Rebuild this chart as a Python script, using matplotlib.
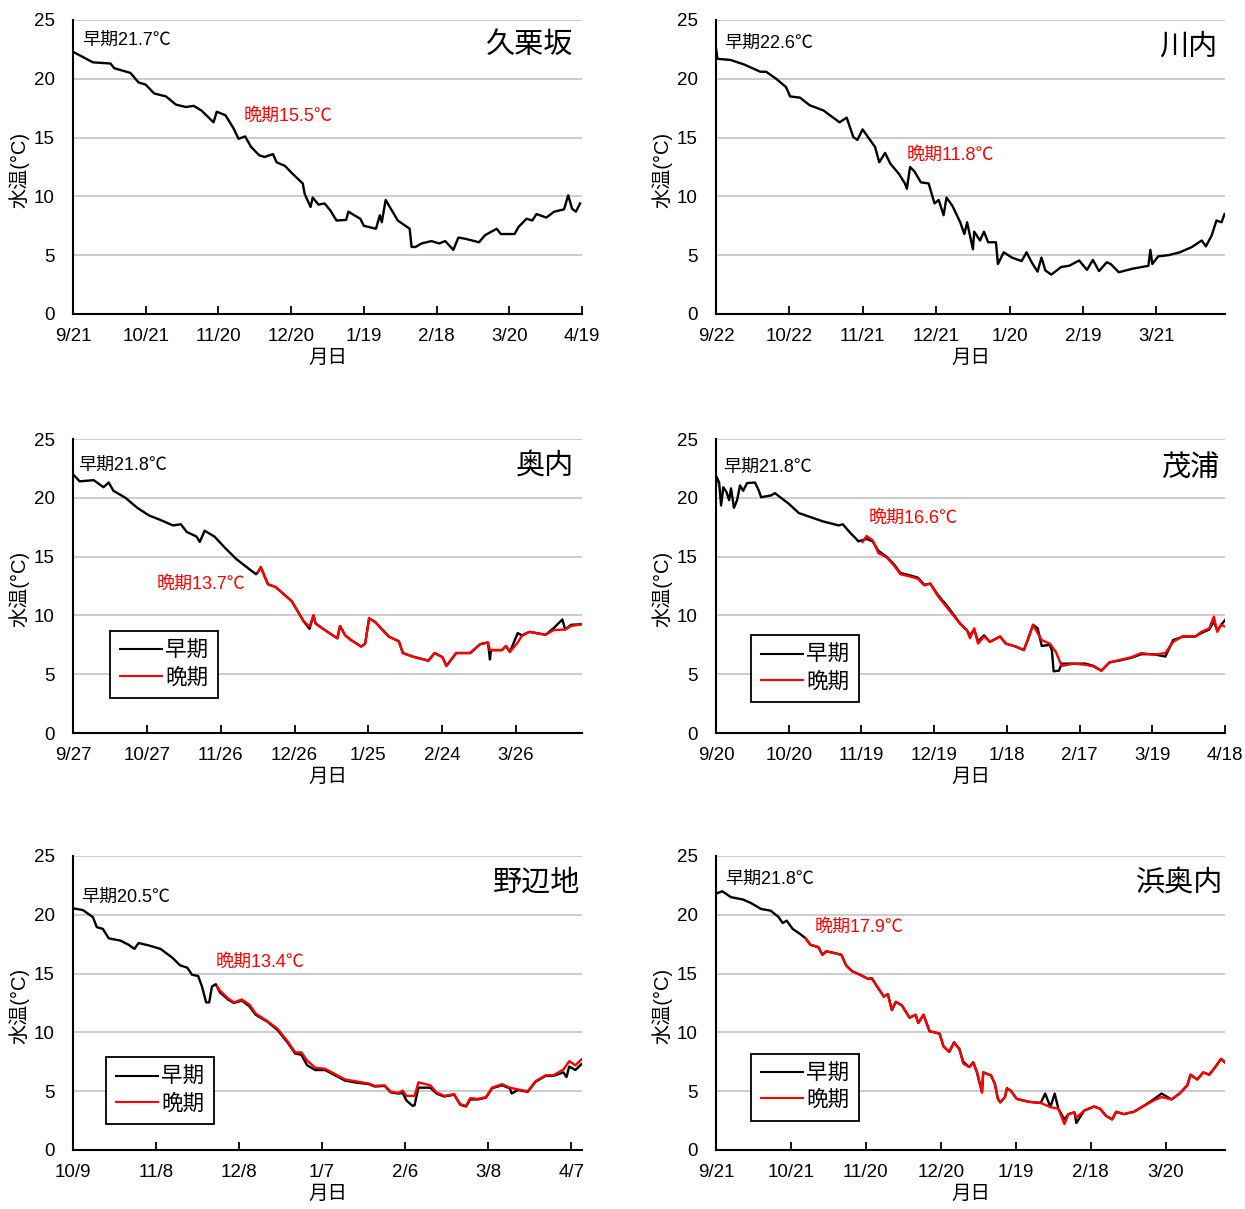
import matplotlib
matplotlib.use('Agg')
import matplotlib.pyplot as plt

# Latin digits in an Arial-like face, Japanese falls through to Noto CJK
plt.rcParams['font.family'] = ['Liberation Sans', 'Noto Sans CJK JP', 'DejaVu Sans']

# ---- 久栗坂 (days from 9/21) ----
KURI_EARLY_D = [0, 8.2, 15.5, 17, 23.7, 27, 30, 33.5, 38.4, 42.5, 46.6, 49.8, 53, 58, 59.3, 62.9,
                66.2, 68.3, 71, 73.5, 76.8, 79, 82.5, 84, 87.4, 90.7, 94.8, 95.6, 98, 98.9, 101.3,
                103.8, 106.2, 108.7, 112.7, 113.6, 118.5, 120, 125, 126.6, 127.4, 129, 130.7, 134,
                138.9, 139.7, 141.3, 143.8, 147.9, 151.1, 153.6, 156.9, 159, 161.8, 167.5, 170,
                174.8, 176.5, 182.2, 183.8, 187.1, 189.5, 191.2, 195.3, 198.5, 202.6, 204.3, 205.9,
                207.5, 209.2]
KURI_EARLY_T = [22.3, 21.4, 21.3, 20.9, 20.5, 19.7, 19.5, 18.75, 18.5, 17.8, 17.6, 17.7, 17.3, 16.3,
                17.2, 16.9, 15.8, 14.9, 15.1, 14.2, 13.5, 13.35, 13.6, 12.9, 12.6, 11.9, 11.1, 10.2,
                9.1, 9.9, 9.3, 9.4, 8.8, 7.95, 8.0, 8.7, 8.1, 7.5, 7.25, 8.4, 7.8, 9.7, 9.1, 7.95,
                7.25, 5.7, 5.7, 6.0, 6.2, 6.0, 6.2, 5.45, 6.5, 6.4, 6.1, 6.7, 7.25, 6.8, 6.8, 7.4,
                8.1, 7.95, 8.5, 8.2, 8.7, 8.9, 10.1, 8.95, 8.7, 9.4]

# ---- 川内 (days from 9/22) ----
SEN_EARLY_D = [0, 0.6, 6, 11.7, 18.1, 20.5, 24.6, 28.6, 30.3, 34.3, 38.3, 44, 47.2, 50.5, 53.4, 56.1,
               57.8, 59.9, 62.1, 65, 66.7, 69.1, 71.2, 74.8, 77.2, 78, 79.3, 81.2, 83.7, 86.9, 89.3,
               91, 93, 94.2, 96.6, 99.8, 101.5, 102.6, 105, 105.5, 107.9, 109.5, 111.2, 114.4,
               115.2, 117.6, 120.9, 124.9, 126.9, 129, 131.4, 133, 134.6, 137, 141.1, 144.3, 148.4,
               151.6, 154, 156.5, 159.7, 161.3, 164.6, 170.2, 176.7, 177.5, 178.3, 180.7, 184.8,
               189.6, 194.5, 198.5, 200.2, 202.6, 204.5, 206.6, 207.8]
SEN_EARLY_T = [22.6, 21.7, 21.6, 21.2, 20.6, 20.6, 20.0, 19.3, 18.5, 18.4, 17.75, 17.3, 16.8, 16.3,
               16.7, 15.05, 14.8, 15.7, 15.05, 14.2, 12.9, 13.7, 12.8, 11.9, 11.1, 10.65, 12.5, 12.1,
               11.2, 11.1, 9.4, 9.7, 8.4, 9.9, 9.2, 7.8, 6.8, 7.8, 5.5, 7.0, 6.25, 7.0, 6.1, 6.1,
               4.25, 5.25, 4.8, 4.5, 5.25, 4.4, 3.6, 4.8, 3.7, 3.35, 4.0, 4.1, 4.55, 3.75, 4.6, 3.65,
               4.4, 4.25, 3.55, 3.85, 4.1, 5.45, 4.25, 4.9, 5.0, 5.25, 5.7, 6.25, 5.75, 6.7, 7.95,
               7.8, 8.5]

# ---- 奥内 (days from 9/27) ----
OKU_EARLY_D = [0, 2.7, 8.4, 12.4, 14.5, 16.4, 21.3, 26.1, 30.9, 35.7, 40.6, 43.8, 46.2, 50.2, 51.5,
               53.5, 57.5, 61.5, 66.3, 71.2, 74.4, 75.2, 76.3, 79.2, 82.4, 88.9, 93.7, 96.1, 97.7,
               98.6, 103.4, 107.4, 108.5, 110.6, 113, 117.1, 118.7, 120.3, 122.7, 128.3, 132.4, 134,
               138, 144.4, 146.9, 150.1, 151.7, 155.7, 161.4, 165.4, 168.6, 169.4, 169.8, 174.3,
               175.9, 177.5, 180.7, 182.3, 185.5, 192, 195.2, 198.8, 200, 202.4, 206.8]
OKU_EARLY_T = [22.0, 21.4, 21.5, 20.9, 21.3, 20.6, 20.0, 19.15, 18.5, 18.1, 17.65, 17.75, 17.1, 16.7,
               16.25, 17.2, 16.7, 15.8, 14.8, 14.0, 13.5, 13.7, 14.1, 12.65, 12.4, 11.2, 9.5, 8.85,
               10.0, 9.3, 8.6, 8.05, 9.1, 8.3, 7.9, 7.35, 7.6, 9.75, 9.45, 8.2, 7.8, 6.8, 6.5, 6.15,
               6.8, 6.45, 5.7, 6.8, 6.8, 7.55, 7.7, 6.25, 7.05, 7.05, 7.4, 6.9, 8.5, 8.3, 8.6, 8.35,
               8.9, 9.65, 8.8, 9.2, 9.25]
OKU_LATE_D = [75.2, 76.3, 79.2, 82.4, 88.9, 93.7, 96.1, 97.7, 98.6, 103.4, 107.4, 108.5, 110.6, 113,
              117.1, 118.7, 120.3, 122.7, 128.3, 132.4, 134, 138, 144.4, 146.9, 150.1, 151.7, 155.7,
              161.4, 165.4, 168.6, 169.4, 174.3, 175.9, 177.5, 180.7, 182.3, 185.5, 192, 195.2,
              200, 202.4, 206.8]
OKU_LATE_T = [13.7, 14.1, 12.65, 12.4, 11.2, 9.5, 9.05, 10.0, 9.3, 8.6, 8.05, 9.1, 8.3, 7.9, 7.35,
              7.6, 9.75, 9.45, 8.2, 7.8, 6.8, 6.5, 6.15, 6.8, 6.45, 5.7, 6.8, 6.8, 7.55, 7.7, 7.05,
              7.05, 7.4, 6.9, 7.7, 8.25, 8.6, 8.35, 8.75, 8.8, 9.1, 9.25]

# ---- 茂浦 (days from 9/20) ----
MOU_EARLY_D = [0, 0.2, 1.3, 2.1, 3.0, 4.3, 5.4, 6.2, 7.4, 8.7, 9.9, 11.2, 12.8, 16.1, 17.7, 18.6,
               22.7, 24.3, 26.8, 30, 34.2, 39.1, 44, 50.6, 52.3, 55.5, 58.8, 60.5, 62.1, 64.6, 67,
               70.3, 73.6, 76.1, 80.2, 83.4, 85.9, 88.4, 91.7, 95, 98.3, 100.7, 103.5, 104.8, 106.5,
               108.1, 110.6, 113, 117.2, 119.6, 123.7, 127, 128.6, 130.8, 132.7, 134.4, 137.7,
               138.6, 139.3, 141.5, 142.6, 147.5, 152.5, 155.8, 159, 162.3, 167.3, 171.4, 175.5,
               180.4, 185.4, 188.6, 192.7, 197.7, 200.2, 203.5, 205.4, 206.8, 208.4, 210]
MOU_EARLY_T = [21.0, 21.8, 21.3, 19.35, 20.9, 20.5, 19.8, 20.8, 19.15, 19.8, 21.05, 20.6, 21.25,
               21.3, 20.6, 20.05, 20.2, 20.4, 20.0, 19.5, 18.7, 18.35, 18.0, 17.65, 17.75, 17.0,
               16.3, 16.4, 16.5, 16.3, 15.5, 15.0, 14.3, 13.6, 13.4, 13.2, 12.6, 12.7, 11.7, 10.9,
               10.0, 9.3, 8.75, 8.3, 8.8, 7.8, 8.3, 7.75, 8.2, 7.6, 7.35, 7.05, 7.9, 9.2, 8.9, 7.4,
               7.5, 7.0, 5.25, 5.3, 5.9, 5.9, 5.9, 5.7, 5.3, 6.0, 6.2, 6.4, 6.7, 6.7, 6.5, 7.9, 8.2,
               8.2, 8.5, 8.8, 9.5, 8.7, 9.2, 9.6]
MOU_LATE_D = [60.5, 62.1, 64.6, 67, 70.3, 73.6, 76.1, 80.2, 83.4, 85.9, 88.4, 91.7, 95, 98.3, 100.7,
              103.5, 104.8, 106.5, 108.1, 110.6, 113, 117.2, 119.6, 123.7, 127, 128.6, 130.8, 132.7,
              134.4, 137.7, 140.2, 142.6, 147.5, 152.5, 155.8, 159, 162.3, 167.3, 171.4, 175.5,
              180.4, 185.4, 188.6, 192.7, 197.7, 200.2, 203.5, 205.4, 206.8, 208.4, 210]
MOU_LATE_T = [16.25, 16.75, 16.4, 15.3, 14.95, 14.2, 13.5, 13.3, 13.1, 12.55, 12.7, 11.6, 10.75, 9.9,
              9.3, 8.75, 8.05, 8.9, 7.6, 8.2, 7.75, 8.2, 7.6, 7.35, 7.05, 7.9, 9.2, 8.5, 7.9, 7.6,
              6.9, 5.7, 5.9, 5.8, 5.65, 5.3, 6.0, 6.25, 6.45, 6.8, 6.65, 6.8, 7.75, 8.25, 8.2, 8.6,
              8.9, 9.9, 8.6, 9.2, 9.05]

# ---- 野辺地 (days from 10/9) ----
NOH_EARLY_D = [0, 3.6, 7.2, 8.6, 10.8, 12.9, 17.2, 20.1, 22.2, 23.7, 27.3, 31.6, 35.9, 38.7, 41.3,
               43, 45.2, 46.6, 48.1, 49.2, 50.2, 51.6, 53.1, 56, 58.1, 61, 63.8, 66, 70.3, 73.9, 77.5,
               80.3, 82.5, 84.6, 87.5, 91.1, 94.7, 98.3, 101.9, 106.9, 109, 112.6, 114.8, 117.6,
               119.1, 120.5, 122.7, 123.4, 124.8, 129.1, 131.3, 134.1, 137.7, 139.9, 142, 143.5,
               146.3, 149.2, 151.4, 155, 157.8, 158.5, 160.7, 164.3, 167.1, 170.7, 173.6, 177.2,
               178.3, 179.3, 181.5, 183.7]
NOH_EARLY_T = [20.55, 20.4, 19.8, 18.95, 18.8, 18.0, 17.8, 17.45, 17.1, 17.6, 17.4, 17.1, 16.35,
               15.7, 15.5, 14.9, 14.8, 13.9, 12.55, 12.55, 13.9, 14.1, 13.4, 12.8, 12.5, 12.7, 12.2,
               11.5, 10.9, 10.2, 9.15, 8.2, 8.1, 7.2, 6.8, 6.8, 6.35, 5.9, 5.75, 5.6, 5.4, 5.45,
               4.9, 4.8, 4.85, 4.2, 3.75, 3.8, 5.3, 5.3, 4.8, 4.55, 4.7, 3.85, 3.7, 4.3, 4.3, 4.45,
               5.25, 5.5, 5.25, 4.8, 5.1, 4.95, 5.8, 6.3, 6.3, 6.6, 6.2, 7.1, 6.8, 7.3]
NOH_LATE_D = [52.1, 53.1, 56, 58.1, 61, 63.8, 66, 70.3, 73.9, 77.5, 80.3, 82.5, 84.6, 87.5, 91.1,
              94.7, 98.3, 101.9, 106.9, 109, 112.6, 114.8, 117.6, 119.1, 120.5, 123.4, 124.8, 129.1,
              131.3, 134.1, 137.7, 139.9, 142, 143.5, 146.3, 149.2, 151.4, 155, 157.8, 160.7, 164.3,
              167.1, 170.7, 173.6, 177.2, 179.3, 181.5, 183.7]
NOH_LATE_T = [13.9, 13.55, 12.9, 12.55, 12.8, 12.35, 11.6, 10.95, 10.3, 9.25, 8.3, 8.3, 7.6, 7.0,
              6.9, 6.45, 6.0, 5.85, 5.65, 5.45, 5.5, 4.95, 4.85, 5.05, 4.6, 4.6, 5.75, 5.5, 4.9,
              4.6, 4.75, 3.9, 3.75, 4.4, 4.35, 4.5, 5.3, 5.6, 5.3, 5.15, 5.0, 5.85, 6.35, 6.35,
              6.85, 7.55, 7.2, 7.7]

# ---- 浜奥内 (days from 9/21) ----
HAMA_EARLY_D = [0, 2.5, 6, 10.8, 14, 18, 21.9, 25.1, 26.7, 28.3, 30.7, 33.8, 35.9, 37.8, 41, 42.6,
                44.2, 47.3, 50.2, 52.1, 54.5, 57.7, 60.9, 62.4, 64.8, 67.2, 68.8, 70.4, 72, 74.4,
                77.5, 79.9, 81, 83.1, 85.5, 89.5, 91.1, 93.4, 95.3, 97.4, 99, 101.4, 103, 104.5,
                106.5, 107, 110.1, 111.7, 112.8, 113.8, 115.7, 116.5, 118, 120.4, 125.2, 130, 131.8,
                133.9, 135.6, 137.1, 139.5, 141.1, 143.5, 144.3, 147.4, 151.4, 153.8, 156.2, 158.6,
                160.2, 163.3, 167.3, 171.3, 175.2, 178.4, 182.4, 185.6, 188.7, 190, 192.7, 195.1,
                197.5, 199.9, 202.2, 203.8]
HAMA_EARLY_T = [21.8, 22.0, 21.5, 21.3, 21.0, 20.5, 20.35, 19.8, 19.3, 19.5, 18.8, 18.35, 18.0,
                17.45, 17.25, 16.6, 16.9, 16.75, 16.6, 15.7, 15.2, 14.9, 14.55, 14.6, 13.8, 13.05,
                13.25, 11.9, 12.6, 12.3, 11.25, 11.5, 10.8, 11.5, 10.1, 9.9, 8.8, 8.35, 9.15, 8.6,
                7.5, 7.05, 7.45, 6.6, 4.9, 6.6, 6.35, 5.6, 4.4, 4.05, 4.5, 5.25, 5.05, 4.35, 4.1,
                4.0, 4.8, 3.65, 4.8, 3.5, 2.6, 3.05, 3.2, 2.3, 3.35, 3.7, 3.5, 2.9, 2.6, 3.25, 3.05,
                3.25, 3.75, 4.3, 4.8, 4.3, 4.8, 5.5, 6.4, 6.0, 6.6, 6.4, 7.05, 7.75, 7.45]
HAMA_LATE_D = [35.9, 37.8, 41, 42.6, 44.2, 47.3, 50.2, 52.1, 54.5, 57.7, 60.9, 62.4, 64.8, 67.2, 68.8,
               70.4, 72, 74.4, 77.5, 79.9, 81, 83.1, 85.5, 89.5, 91.1, 93.4, 95.3, 97.4, 99, 101.4,
               103, 104.5, 106.5, 107, 110.1, 111.7, 112.8, 113.8, 115.7, 116.5, 118, 120.4, 125.2,
               130, 133.9, 137.1, 139.5, 141.1, 143.5, 144.3, 147.4, 151.4, 153.8, 156.2, 158.6,
               160.2, 163.3, 167.3, 171.3, 175.2, 178.4, 182.4, 185.6, 188.7, 190, 192.7, 195.1,
               197.5, 199.9, 202.2, 203.8]
HAMA_LATE_T = [18.0, 17.45, 17.25, 16.6, 16.9, 16.75, 16.6, 15.7, 15.2, 14.9, 14.55, 14.6, 13.8,
               13.05, 13.25, 11.9, 12.6, 12.3, 11.25, 11.5, 10.8, 11.5, 10.1, 9.9, 8.8, 8.35, 9.15,
               8.6, 7.35, 7.05, 7.45, 6.6, 4.9, 6.6, 6.35, 5.6, 4.4, 4.05, 4.5, 5.25, 5.05, 4.35,
               4.1, 4.0, 3.65, 3.5, 2.2, 3.05, 3.2, 2.75, 3.35, 3.7, 3.5, 2.9, 2.6, 3.25, 3.05,
               3.25, 3.75, 4.2, 4.5, 4.3, 4.8, 5.5, 6.4, 6.0, 6.6, 6.4, 7.05, 7.75, 7.45]

# tick labels every 30 days
KURI_TICKS = ['9/21', '10/21', '11/20', '12/20', '1/19', '2/18', '3/20', '4/19']
SEN_TICKS = ['9/22', '10/22', '11/21', '12/21', '1/20', '2/19', '3/21']
OKU_TICKS = ['9/27', '10/27', '11/26', '12/26', '1/25', '2/24', '3/26']
MOU_TICKS = ['9/20', '10/20', '11/19', '12/19', '1/18', '2/17', '3/19', '4/18']
NOH_TICKS = ['10/9', '11/8', '12/8', '1/7', '2/6', '3/8', '4/7']
HAMA_TICKS = ['9/21', '10/21', '11/20', '12/20', '1/19', '2/18', '3/20']

SITES = ['久栗坂', '川内', '奥内', '茂浦', '野辺地', '浜奥内']
EARLY_LABELS = ['早期21.7℃', '早期22.6℃', '早期21.8℃', '早期21.8℃', '早期20.5℃', '早期21.8℃']
LATE_LABELS = ['晩期15.5℃', '晩期11.8℃', '晩期13.7℃', '晩期16.6℃', '晩期13.4℃', '晩期17.9℃']

RED = '#ff0000'


def panel(fig, rect, site, early, late, ticks, xmax, lab_e, lab_l, pos_t, pos_e, pos_l,
          legend_at):
    ax = fig.add_axes(rect)
    ax.plot(early[0], early[1], color='black', lw=1.7, zorder=3)
    if late is not None:
        ax.plot(late[0], late[1], color=RED, lw=1.7, zorder=4)
    ax.set_xlim(0, xmax)
    ax.set_ylim(0, 25)
    ax.set_yticks(range(0, 26, 5))
    ax.set_xticks([30 * i for i in range(len(ticks))])
    ax.set_xticklabels(ticks)
    ax.yaxis.grid(True, color='#c8c8c8', lw=1.3)
    ax.set_axisbelow(True)
    for s in ('top', 'right'):
        ax.spines[s].set_visible(False)
    for s in ('left', 'bottom'):
        ax.spines[s].set_linewidth(1.5)
    ax.tick_params(axis='x', direction='in', length=6, width=1.3, labelsize=13.5, pad=10)
    ax.tick_params(axis='y', length=0, labelsize=13.5, pad=13)
    ax.set_xlabel('月日', fontsize=14, labelpad=3)
    ax.set_ylabel('水温(°C)', fontsize=14.5)
    ax.yaxis.set_label_coords(-0.086, 0.49)
    ax.text(pos_t[0], pos_t[1], site, transform=ax.transAxes, ha='right', va='center',
            fontsize=21)
    ax.text(pos_e[0], pos_e[1], lab_e, transform=ax.transAxes, ha='left', va='center',
            fontsize=13)
    ax.text(pos_l[0], pos_l[1], lab_l, transform=ax.transAxes, ha='left', va='center',
            fontsize=13, color=RED)
    if legend_at is not None:
        ax.plot([], [], color='black', lw=1.5, label='早期')
        ax.plot([], [], color=RED, lw=1.5, label='晩期')
        leg = ax.legend(loc='lower left', bbox_to_anchor=legend_at, borderaxespad=0,
                        fontsize=15.5, fancybox=False, framealpha=1, edgecolor='black',
                        handlelength=1.95, handletextpad=0.15, borderpad=0.45,
                        labelspacing=0.25)
        leg.get_frame().set_linewidth(1.3)
    return ax


fig = plt.figure(figsize=(12.45, 12.09), dpi=100)
W, H = 1245, 1209
cols = [73 / W, 716 / W]
rows = [1 - 314 / H, 1 - 733 / H, 1 - 1150 / H]
aw, ah = 509 / W, 294 / H

panel(fig, [cols[0], rows[0], aw, ah], SITES[0], (KURI_EARLY_D, KURI_EARLY_T), None, KURI_TICKS,
      210, EARLY_LABELS[0], LATE_LABELS[0], (0.982, 0.915), (0.018, 0.93), (0.335, 0.673), None)
panel(fig, [cols[1], rows[0], aw, ah], SITES[1], (SEN_EARLY_D, SEN_EARLY_T), None, SEN_TICKS,
      208, EARLY_LABELS[1], LATE_LABELS[1], (0.986, 0.91), (0.016, 0.92), (0.375, 0.54), None)
panel(fig, [cols[0], rows[1], aw, ah], SITES[2], (OKU_EARLY_D, OKU_EARLY_T),
      (OKU_LATE_D, OKU_LATE_T), OKU_TICKS, 206.8, EARLY_LABELS[2], LATE_LABELS[2],
      (0.984, 0.908), (0.01, 0.91), (0.165, 0.505), (0.073, 0.119))
panel(fig, [cols[1], rows[1], aw, ah], SITES[3], (MOU_EARLY_D, MOU_EARLY_T),
      (MOU_LATE_D, MOU_LATE_T), MOU_TICKS, 210, EARLY_LABELS[3], LATE_LABELS[3],
      (0.99, 0.9), (0.014, 0.905), (0.3, 0.729), (0.069, 0.105))
panel(fig, [cols[0], rows[2], aw, ah], SITES[4], (NOH_EARLY_D, NOH_EARLY_T),
      (NOH_LATE_D, NOH_LATE_T), NOH_TICKS, 183.9, EARLY_LABELS[4], LATE_LABELS[4],
      (0.996, 0.91), (0.017, 0.86), (0.281, 0.637), (0.065, 0.088))
panel(fig, [cols[1], rows[2], aw, ah], SITES[5], (HAMA_EARLY_D, HAMA_EARLY_T),
      (HAMA_LATE_D, HAMA_LATE_T), HAMA_TICKS, 203.8, EARLY_LABELS[5], LATE_LABELS[5],
      (0.996, 0.91), (0.018, 0.92), (0.193, 0.757), (0.069, 0.10))

fig.savefig('out.png', dpi=100)
